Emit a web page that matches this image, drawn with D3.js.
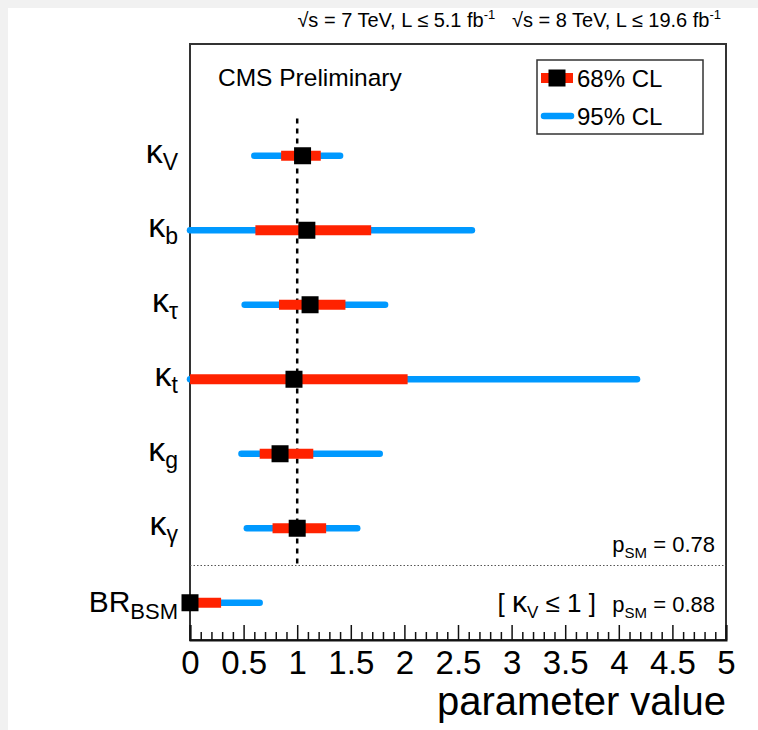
<!DOCTYPE html>
<html>
<head>
<meta charset="utf-8">
<script src="https://cdn.jsdelivr.net/npm/d3@7"></script>
<style>
  body { margin: 0; background: #f1f1f1; }
  svg { display: block; font-family: "Liberation Sans", Arial, Helvetica, sans-serif; }
</style>
</head>
<body>
<div class="root"></div>
<script>
// couplings fit summary
const labelMain = ['κ', 'κ', 'κ', 'κ', 'κ', 'κ', 'BR'];
const labelSub = ['V', 'b', 'τ', 't', 'g', 'γ', 'BSM'];
const central = [1.05, 1.09, 1.12, 0.97, 0.84, 1.00, 0.0];
const lo68 = [0.85, 0.61, 0.83, 0.0, 0.65, 0.77, 0.0];
const hi68 = [1.22, 1.69, 1.45, 2.03, 1.15, 1.27, 0.29];
const lo95 = [0.60, 0.0, 0.51, 0.0, 0.48, 0.53, 0.0];
const hi95 = [1.40, 2.63, 1.82, 4.17, 1.77, 1.56, 0.65];
const xTicks = [0, 0.5, 1, 1.5, 2, 2.5, 3, 3.5, 4, 4.5, 5];

const W = 758, H = 730;
const frame = { left: 190, right: 726, top: 44, bottom: 640 };
const red = '#ff2200', blue = '#0099ff';

const svg = d3.select('.root')
  .append('svg')
  .attr('width', W)
  .attr('height', H);

svg.append('rect')
  .attr('x', 8).attr('y', 8)
  .attr('width', W - 8).attr('height', H - 8)
  .attr('fill', '#fff');

const x = d3.scaleLinear().domain([0, 5]).range([frame.left, frame.right]);
// 8 slots, rows sit at 6.5 ... 0.5
const y = d3.scaleLinear().domain([0, 8]).range([frame.bottom, frame.top]);
const rowY = (d, i) => y(6.5 - i);

// header
const head = svg.append('text')
  .attr('x', 721).attr('y', 27)
  .attr('text-anchor', 'end')
  .attr('font-size', 20);
head.append('tspan').text('√s = 7 TeV, L ≤ 5.1 fb');
head.append('tspan').attr('font-size', 13).attr('dy', -8).text('-1');
head.append('tspan').attr('dy', 8).text('\u00a0\u00a0\u00a0√s = 8 TeV, L ≤ 19.6 fb');
head.append('tspan').attr('font-size', 13).attr('dy', -8).text('-1');

// frame
svg.append('rect')
  .attr('x', frame.left).attr('y', frame.top)
  .attr('width', frame.right - frame.left)
  .attr('height', frame.bottom - frame.top)
  .attr('fill', 'none')
  .attr('stroke', '#333')
  .attr('stroke-width', 2);

// SM line and separator
svg.append('line')
  .attr('x1', x(1)).attr('x2', x(1))
  .attr('y1', y(7)).attr('y2', y(1))
  .attr('stroke', '#000')
  .attr('stroke-width', 2.5)
  .attr('stroke-dasharray', '5,5');

svg.append('line')
  .attr('x1', frame.left).attr('x2', frame.right)
  .attr('y1', y(1)).attr('y2', y(1))
  .attr('stroke', '#555')
  .attr('stroke-width', 1)
  .attr('stroke-dasharray', '1.5,2');

// axis
const major = d3.axisBottom(x).tickValues(xTicks).tickSize(-15).tickPadding(11)
  .tickFormat(d3.format('~g'));
const gx = svg.append('g')
  .attr('transform', `translate(0, ${frame.bottom})`)
  .call(major);
gx.select('.domain').attr('stroke', '#111').attr('stroke-width', 2);
gx.selectAll('.tick line').attr('stroke', '#111').attr('stroke-width', 1.5);
gx.selectAll('.tick text').attr('font-size', 33).attr('fill', '#000')
  .attr('font-family', '"Liberation Sans", Arial, sans-serif');

const minorVals = d3.range(0, 51).map(d => d / 10).filter(d => Math.round(d * 10) % 5 !== 0);
svg.append('g')
  .attr('transform', `translate(0, ${frame.bottom})`)
  .call(d3.axisBottom(x).tickValues(minorVals).tickSize(-8).tickFormat(''))
  .call(g => g.select('.domain').remove())
  .call(g => g.selectAll('.tick line').attr('stroke', '#111').attr('stroke-width', 1.5));

svg.append('text')
  .attr('x', frame.right).attr('y', 715)
  .attr('text-anchor', 'end')
  .attr('font-size', 40)
  .text('parameter value');

// row labels
const labels = svg.append('g').selectAll('text')
  .data(labelMain)
  .enter()
  .append('text')
  .attr('x', 178)
  .attr('y', (d, i) => rowY(d, i) + (i === 6 ? 9 : 7))
  .attr('text-anchor', 'end')
  .attr('font-size', (d, i) => i === 6 ? 30 : 34);
labels.append('tspan').text(d => d);
labels.append('tspan')
  .attr('font-size', (d, i) => i === 6 ? 22 : 23)
  .attr('dy', 7)
  .text((d, i) => labelSub[i]);

// intervals
const rows = svg.append('g').selectAll('g')
  .data(central)
  .enter()
  .append('g');

rows.append('line')
  .attr('x1', (d, i) => x(lo95[i])).attr('x2', (d, i) => x(hi95[i]))
  .attr('y1', rowY).attr('y2', rowY)
  .attr('stroke', blue).attr('stroke-width', 6.5)
  .attr('stroke-linecap', 'round');

rows.append('line')
  .attr('x1', (d, i) => x(lo68[i])).attr('x2', (d, i) => x(hi68[i]))
  .attr('y1', rowY).attr('y2', rowY)
  .attr('stroke', red).attr('stroke-width', 10);

rows.append('rect')
  .attr('x', d => x(d) - 8.5)
  .attr('y', (d, i) => rowY(d, i) - 8.5)
  .attr('width', 17).attr('height', 17)
  .attr('fill', '#000');

// CMS label
svg.append('text')
  .attr('x', 218).attr('y', 86)
  .attr('font-size', 24.5)
  .text('CMS Preliminary');

// legend
const leg = svg.append('g');
leg.append('rect')
  .attr('x', 537).attr('y', 60)
  .attr('width', 166).attr('height', 74)
  .attr('fill', '#fff')
  .attr('stroke', '#333').attr('stroke-width', 1.5);
leg.append('line')
  .attr('x1', 541).attr('x2', 573).attr('y1', 78).attr('y2', 78)
  .attr('stroke', red).attr('stroke-width', 10);
leg.append('rect')
  .attr('x', 548.5).attr('y', 69.5).attr('width', 17).attr('height', 17)
  .attr('fill', '#000');
leg.append('line')
  .attr('x1', 544).attr('x2', 571).attr('y1', 116).attr('y2', 116)
  .attr('stroke', blue).attr('stroke-width', 6.5).attr('stroke-linecap', 'round');
leg.append('text').attr('x', 577).attr('y', 87).attr('font-size', 24).text('68% CL');
leg.append('text').attr('x', 577).attr('y', 125).attr('font-size', 24).text('95% CL');

// p-values
const psm = [['0.78', y(1) - 14], ['0.88', rowY(0, 6) + 9]];
psm.forEach(([v, yy]) => {
  const t = svg.append('text')
    .attr('x', 715).attr('y', yy)
    .attr('text-anchor', 'end')
    .attr('font-size', 22);
  t.append('tspan').text('p');
  t.append('tspan').attr('font-size', 15).attr('dy', 6).text('SM');
  t.append('tspan').attr('dy', -6).text(' = ' + v);
});

const cond = svg.append('text')
  .attr('x', 596).attr('y', rowY(0, 6) + 9)
  .attr('text-anchor', 'end')
  .attr('font-size', 26);
cond.append('tspan').text('[ ');
cond.append('tspan').attr('font-size', 30).text('κ');
cond.append('tspan').attr('font-size', 17).attr('dy', 6).text('V');
cond.append('tspan').attr('dy', -6).text(' ≤ 1 ]');
</script>
</body>
</html>
